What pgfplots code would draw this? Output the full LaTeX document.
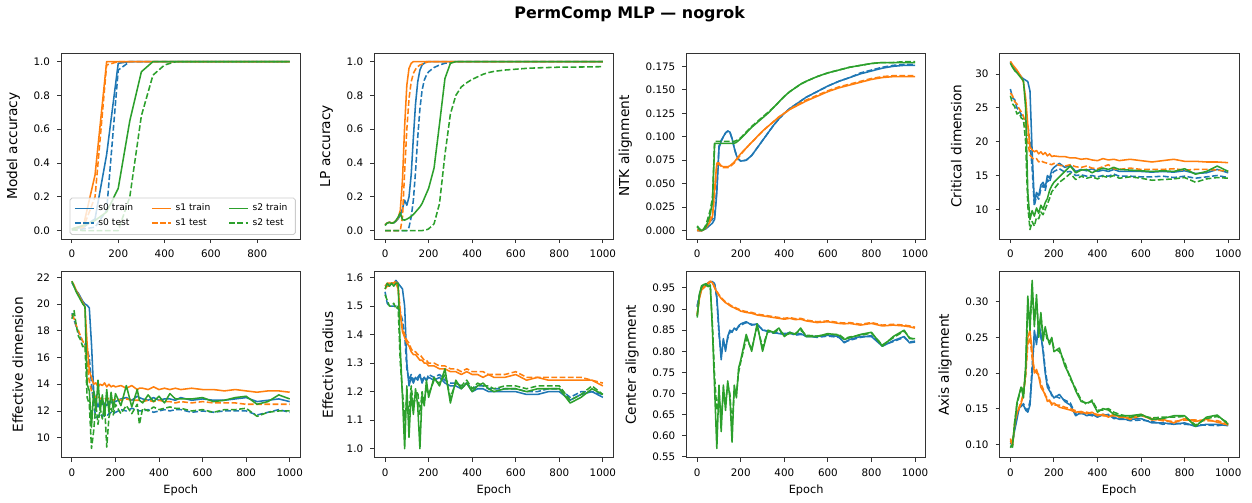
\documentclass[border=0pt]{standalone}
\usepackage{fontspec}
\setmainfont{DejaVu Sans}
\usepackage{pgfplots}
\usepackage{pgfplotstable}
\pgfplotsset{compat=1.18}

\definecolor{c0}{HTML}{1F77B4}
\definecolor{c1}{HTML}{FF7F0E}
\definecolor{c2}{HTML}{2CA02C}

\newcommand{\tickfont}{\fontsize{5.2}{6}\selectfont}
\newcommand{\labfont}{\fontsize{6.9}{8}\selectfont}
\newcommand{\xlabfont}{\fontsize{5.7}{6.5}\selectfont}
\newcommand{\legfont}{\fontsize{4.6}{5.4}\selectfont}

% Model accuracy (evaluated every 50 epochs)
\pgfplotstableread{
e btr bte otr ote gtr gte
0 0.01 0.005 0.01 0.005 0.01 0.005
50 0.02 0.01 0.03 0.02 0.03 0.0
100 0.07 0.02 0.33 0.20 0.06 0.0
150 0.45 0.12 1.0 0.98 0.11 0.0
200 0.99 0.95 1.0 1.0 0.25 0.0
250 1.0 1.0 1.0 1.0 0.65 0.20
300 1.0 1.0 1.0 1.0 0.94 0.68
350 1.0 1.0 1.0 1.0 1.0 0.92
400 1.0 1.0 1.0 1.0 1.0 0.98
450 1.0 1.0 1.0 1.0 1.0 1.0
500 1.0 1.0 1.0 1.0 1.0 1.0
550 1.0 1.0 1.0 1.0 1.0 1.0
600 1.0 1.0 1.0 1.0 1.0 1.0
650 1.0 1.0 1.0 1.0 1.0 1.0
700 1.0 1.0 1.0 1.0 1.0 1.0
750 1.0 1.0 1.0 1.0 1.0 1.0
800 1.0 1.0 1.0 1.0 1.0 1.0
850 1.0 1.0 1.0 1.0 1.0 1.0
900 1.0 1.0 1.0 1.0 1.0 1.0
940 1.0 1.0 1.0 1.0 1.0 1.0
}\ma

% LP accuracy
\pgfplotstableread{
e btr bte otr ote gtr gte
0 0.035 0.0 0.035 0.0 0.030 0.0
10 0.045 0.0 0.045 0.0 0.045 0.0
20 0.050 0.0 0.050 0.0 0.048 0.0
30 0.045 0.0 0.045 0.0 0.044 0.0
40 0.046 0.0 0.048 0.0 0.046 0.0
50 0.055 0.0 0.058 0.0 0.060 0.0
60 0.070 0.0 0.075 0.0 0.080 0.0
70 0.090 0.0 0.12 0.0 0.105 0.0
80 0.130 0.0 0.30 0.08 0.065 0.0
90 0.180 0.0 0.62 0.35 0.062 0.0
100 0.150 0.0 0.86 0.60 0.068 0.0
110 0.200 0.02 0.96 0.78 0.075 0.0
120 0.33 0.08 0.99 0.88 0.085 0.0
130 0.55 0.18 1.0 0.93 0.095 0.0
140 0.75 0.35 1.0 0.955 0.11 0.0
150 0.88 0.55 1.0 0.97 0.125 0.0
160 0.95 0.72 1.0 0.98 0.14 0.0
170 0.98 0.83 1.0 0.985 0.16 0.0
180 0.99 0.89 1.0 0.99 0.19 0.003
190 1.0 0.92 1.0 0.995 0.22 0.005
200 1.0 0.94 1.0 1.0 0.25 0.01
225 1.0 0.965 1.0 1.0 0.37 0.04
250 1.0 0.98 1.0 1.0 0.63 0.16
275 1.0 0.99 1.0 1.0 0.90 0.45
300 1.0 0.995 1.0 1.0 0.99 0.69
325 1.0 1.0 1.0 1.0 1.0 0.80
350 1.0 1.0 1.0 1.0 1.0 0.85
375 1.0 1.0 1.0 1.0 1.0 0.875
400 1.0 1.0 1.0 1.0 1.0 0.895
425 1.0 1.0 1.0 1.0 1.0 0.91
450 1.0 1.0 1.0 1.0 1.0 0.925
475 1.0 1.0 1.0 1.0 1.0 0.935
500 1.0 1.0 1.0 1.0 1.0 0.942
550 1.0 1.0 1.0 1.0 1.0 0.95
600 1.0 1.0 1.0 1.0 1.0 0.955
650 1.0 1.0 1.0 1.0 1.0 0.96
700 1.0 1.0 1.0 1.0 1.0 0.963
800 1.0 1.0 1.0 1.0 1.0 0.967
900 1.0 1.0 1.0 1.0 1.0 0.968
1000 1.0 1.0 1.0 1.0 1.0 0.970
}\lp

% NTK alignment
\pgfplotstableread{
e btr bte otr ote gtr gte
0 0.000 0.001 0.000 0.001 0.004 0.005
10 0.000 0.000 0.000 0.000 0.001 0.002
20 0.000 0.000 0.000 0.000 0.000 0.000
30 0.001 0.001 0.001 0.001 0.001 0.002
40 0.002 0.003 0.003 0.004 0.004 0.006
50 0.004 0.006 0.006 0.008 0.010 0.014
60 0.006 0.010 0.010 0.014 0.018 0.022
70 0.008 0.012 0.015 0.016 0.030 0.035
80 0.012 0.016 0.045 0.040 0.093 0.095
90 0.040 0.045 0.072 0.070 0.093 0.095
100 0.088 0.090 0.072 0.071 0.093 0.095
110 0.095 0.096 0.069 0.068 0.093 0.095
120 0.100 0.100 0.068 0.067 0.093 0.095
130 0.104 0.104 0.068 0.067 0.093 0.095
140 0.106 0.106 0.068 0.067 0.093 0.095
150 0.105 0.105 0.069 0.068 0.093 0.095
160 0.098 0.098 0.071 0.070 0.093 0.095
170 0.088 0.088 0.073 0.072 0.093 0.095
180 0.080 0.080 0.076 0.075 0.094 0.096
190 0.076 0.076 0.079 0.078 0.096 0.097
200 0.074 0.074 0.082 0.081 0.098 0.099
225 0.075 0.075 0.088 0.088 0.104 0.105
250 0.080 0.080 0.094 0.094 0.110 0.111
275 0.088 0.088 0.100 0.100 0.115 0.116
300 0.096 0.096 0.106 0.106 0.120 0.121
325 0.104 0.104 0.111 0.111 0.125 0.126
350 0.112 0.112 0.116 0.116 0.131 0.131
375 0.119 0.119 0.121 0.121 0.137 0.137
400 0.125 0.125 0.125 0.125 0.143 0.143
425 0.130 0.130 0.129 0.129 0.148 0.148
450 0.134 0.134 0.132 0.133 0.152 0.152
475 0.138 0.138 0.135 0.136 0.156 0.156
500 0.142 0.142 0.138 0.139 0.159 0.159
550 0.148 0.148 0.143 0.144 0.164 0.164
600 0.154 0.154 0.148 0.149 0.168 0.168
650 0.159 0.159 0.152 0.153 0.171 0.171
700 0.163 0.163 0.155 0.156 0.174 0.174
750 0.167 0.168 0.158 0.159 0.176 0.176
800 0.170 0.171 0.161 0.162 0.178 0.178
850 0.173 0.174 0.163 0.164 0.179 0.179
900 0.175 0.176 0.164 0.165 0.179 0.179
950 0.176 0.177 0.164 0.165 0.179 0.180
1000 0.176 0.177 0.164 0.165 0.179 0.180
}\ntk

% Critical dimension
\pgfplotstableread{
e btr bte otr ote gtr gte
0 31.8 27.8 31.9 27.2 31.6 26.8
10 31.2 26.5 31.4 26.8 31.0 25.6
20 30.8 26.2 31.0 25.9 30.5 25.2
30 30.4 25.0 30.6 25.6 30.2 24.1
40 30.0 24.6 30.1 24.9 29.8 24.3
50 29.6 24.0 29.6 24.4 29.4 23.5
60 29.3 23.6 28.8 23.8 29.0 23.3
70 29.1 23.2 26.5 22.5 25.0 20.0
80 28.9 22.5 22.5 20.0 12.5 10.5
90 27.5 20.0 19.2 18.0 8.5 7.0
100 18.5 16.0 18.8 17.6 9.8 8.2
110 11.0 10.5 18.5 17.4 9.0 7.5
120 12.5 12.0 18.7 17.5 10.2 8.8
130 12.0 11.5 18.2 17.0 9.4 8.6
140 13.6 13.0 18.5 17.2 10.6 9.6
150 14.0 13.6 18.1 17.0 10.0 9.2
160 13.2 12.8 18.4 16.9 11.0 10.0
170 15.0 14.4 17.9 16.8 11.6 10.8
180 14.6 14.0 18.2 16.7 12.8 11.6
190 15.8 15.2 17.8 16.6 13.5 12.6
200 16.2 15.6 17.9 16.8 14.0 13.0
225 16.8 16.0 17.8 16.5 14.8 14.0
250 16.2 15.5 17.8 16.4 15.6 14.6
275 16.5 15.6 17.6 16.6 16.4 15.3
300 15.6 15.0 17.6 16.3 15.4 14.4
325 15.9 15.1 17.4 16.2 15.8 14.9
350 15.7 14.9 17.5 16.4 15.9 14.6
375 16.0 15.0 17.3 16.1 15.4 14.8
400 15.6 14.8 17.2 16.0 15.8 14.5
425 15.8 15.0 17.5 16.3 16.1 14.9
450 15.6 14.9 17.3 16.6 15.9 14.7
475 15.9 15.2 17.4 16.0 16.2 15.0
500 15.6 14.9 17.2 15.9 15.9 14.6
550 15.6 14.9 17.4 16.1 15.8 14.8
600 15.6 14.8 17.2 15.9 15.7 14.6
650 15.5 14.8 17.0 15.9 15.6 14.3
700 15.6 14.9 17.2 15.9 15.7 14.4
750 15.5 14.7 17.4 16.0 15.6 14.5
800 15.7 14.9 17.1 15.8 16.0 14.7
850 15.3 14.6 17.1 15.9 15.2 14.0
900 15.4 14.8 17.0 15.9 15.6 14.5
950 15.9 15.0 17.0 15.8 16.4 14.7
1000 15.4 14.7 16.9 15.6 15.6 14.6
}\cd

% Effective dimension
\pgfplotstableread{
e btr bte otr ote gtr gte
0 21.6 19.3 21.7 19.2 21.7 18.9
10 21.3 18.8 21.4 18.9 21.3 19.5
20 21.0 18.3 21.0 18.4 20.9 18.4
30 20.8 17.9 20.7 18.0 20.6 17.6
40 20.5 17.5 20.4 17.6 20.3 17.3
50 20.2 17.2 20.1 17.2 20.0 16.8
60 20.0 17.0 19.8 17.0 19.8 16.9
70 19.9 16.6 17.0 15.5 14.0 13.0
80 19.7 16.0 15.0 14.2 13.5 12.5
90 17.0 14.0 14.5 13.5 10.8 9.2
100 13.5 12.5 14.0 13.2 13.5 10.5
110 12.8 11.5 14.1 13.0 12.0 12.5
120 12.3 11.6 13.8 13.1 14.3 11.0
130 12.8 11.8 14.0 12.9 12.0 12.2
140 12.5 11.6 13.9 13.0 13.2 11.4
150 12.6 11.7 14.1 13.0 11.6 12.5
160 12.4 11.6 13.8 12.8 13.6 9.3
170 12.7 11.8 14.0 13.0 11.9 11.5
180 12.6 11.9 13.8 12.9 13.4 12.2
190 12.8 11.8 13.9 12.8 12.1 11.7
200 12.7 11.9 13.8 12.9 13.3 12.5
225 12.9 12.1 13.9 12.8 12.4 11.8
250 13.0 12.0 13.7 12.9 13.9 12.4
275 12.8 12.2 13.9 12.8 12.3 11.8
300 13.1 12.1 13.6 12.8 13.6 12.5
310 13.0 12.0 13.7 12.8 12.8 11.0
325 12.9 12.0 13.7 12.7 12.6 12.2
350 12.8 12.1 13.6 12.8 13.2 12.0
375 13.0 11.9 13.8 12.7 12.7 12.3
400 12.8 12.0 13.6 12.8 13.1 12.1
425 12.9 12.1 13.7 12.7 12.6 12.2
450 12.9 12.0 13.6 12.7 13.3 12.3
475 12.8 12.1 13.7 12.6 12.9 12.2
500 13.0 12.1 13.6 12.7 12.9 12.2
550 12.8 11.9 13.7 12.6 12.9 12.0
600 12.9 12.0 13.6 12.7 13.0 12.1
650 12.8 11.9 13.6 12.6 12.7 11.9
700 12.8 12.0 13.5 12.6 12.8 12.1
750 12.9 12.0 13.6 12.6 13.0 12.1
800 13.0 12.0 13.5 12.5 13.1 12.2
850 12.7 11.7 13.4 12.5 12.5 11.6
900 12.8 11.9 13.5 12.5 12.7 11.9
950 12.9 12.1 13.5 12.5 13.2 12.0
1000 12.7 11.9 13.4 12.5 12.9 12.0
}\ed

% Effective radius
\pgfplotstableread{
e btr bte otr ote gtr gte
0 1.57 1.55 1.57 1.56 1.56 1.54
10 1.57 1.51 1.58 1.57 1.58 1.52
20 1.57 1.50 1.58 1.57 1.57 1.50
30 1.58 1.50 1.58 1.58 1.58 1.50
40 1.58 1.50 1.58 1.58 1.57 1.51
50 1.59 1.50 1.58 1.59 1.58 1.49
60 1.58 1.49 1.56 1.57 1.58 1.50
70 1.57 1.48 1.47 1.48 1.35 1.30
80 1.56 1.45 1.41 1.42 1.18 1.20
90 1.50 1.40 1.39 1.40 1.00 1.10
100 1.30 1.28 1.37 1.38 1.22 1.18
110 1.22 1.24 1.36 1.37 1.04 1.12
120 1.25 1.26 1.34 1.35 1.20 1.22
130 1.23 1.24 1.33 1.34 1.12 1.15
140 1.25 1.25 1.33 1.34 1.21 1.18
150 1.24 1.25 1.32 1.33 1.15 1.20
160 1.26 1.26 1.31 1.33 1.00 1.12
170 1.23 1.24 1.31 1.32 1.19 1.20
180 1.25 1.25 1.30 1.31 1.15 1.16
190 1.24 1.24 1.30 1.31 1.24 1.22
200 1.25 1.26 1.29 1.30 1.18 1.19
225 1.24 1.25 1.29 1.30 1.25 1.24
250 1.25 1.26 1.28 1.29 1.22 1.23
275 1.23 1.24 1.28 1.29 1.28 1.26
300 1.22 1.23 1.27 1.28 1.16 1.18
325 1.22 1.23 1.27 1.28 1.24 1.23
350 1.21 1.22 1.26 1.27 1.21 1.22
375 1.23 1.23 1.27 1.28 1.23 1.24
400 1.20 1.21 1.26 1.27 1.20 1.21
425 1.21 1.22 1.26 1.27 1.22 1.23
450 1.21 1.22 1.25 1.27 1.23 1.22
475 1.20 1.21 1.26 1.26 1.21 1.22
500 1.20 1.21 1.25 1.26 1.20 1.21
550 1.20 1.21 1.25 1.26 1.21 1.22
600 1.20 1.21 1.26 1.27 1.21 1.22
650 1.19 1.20 1.24 1.25 1.20 1.21
700 1.19 1.20 1.25 1.25 1.21 1.22
750 1.20 1.21 1.24 1.25 1.21 1.22
800 1.20 1.21 1.24 1.25 1.21 1.22
850 1.17 1.18 1.24 1.25 1.16 1.17
900 1.19 1.20 1.24 1.25 1.18 1.19
950 1.20 1.20 1.24 1.24 1.21 1.22
1000 1.18 1.19 1.22 1.23 1.19 1.19
}\er

% Center alignment
\pgfplotstableread{
e btr bte otr ote gtr gte
0 0.905 0.908 0.885 0.888 0.880 0.884
10 0.930 0.932 0.925 0.928 0.935 0.932
20 0.950 0.948 0.945 0.948 0.955 0.952
30 0.955 0.953 0.950 0.952 0.958 0.955
40 0.958 0.957 0.955 0.957 0.960 0.957
50 0.962 0.960 0.960 0.962 0.955 0.953
60 0.965 0.963 0.965 0.966 0.957 0.955
70 0.965 0.964 0.962 0.963 0.850 0.860
80 0.960 0.958 0.950 0.952 0.710 0.740
90 0.930 0.925 0.940 0.942 0.570 0.660
100 0.850 0.840 0.932 0.934 0.720 0.700
110 0.780 0.790 0.925 0.927 0.610 0.640
120 0.830 0.825 0.920 0.922 0.720 0.700
130 0.800 0.810 0.915 0.917 0.660 0.680
140 0.835 0.830 0.912 0.914 0.730 0.720
150 0.850 0.845 0.908 0.910 0.690 0.700
160 0.845 0.848 0.905 0.907 0.585 0.620
170 0.855 0.852 0.903 0.905 0.720 0.710
180 0.850 0.853 0.900 0.902 0.690 0.700
190 0.860 0.858 0.898 0.900 0.760 0.750
200 0.865 0.862 0.895 0.897 0.780 0.775
225 0.870 0.868 0.892 0.894 0.840 0.830
250 0.862 0.864 0.890 0.892 0.800 0.805
275 0.865 0.862 0.886 0.888 0.865 0.860
300 0.850 0.852 0.884 0.886 0.800 0.810
325 0.848 0.846 0.882 0.884 0.850 0.848
350 0.845 0.843 0.880 0.882 0.845 0.843
375 0.842 0.844 0.878 0.880 0.855 0.852
400 0.840 0.842 0.876 0.878 0.835 0.838
425 0.845 0.843 0.878 0.880 0.845 0.842
450 0.840 0.838 0.875 0.877 0.840 0.842
475 0.842 0.840 0.876 0.878 0.855 0.850
500 0.835 0.837 0.872 0.874 0.835 0.838
550 0.835 0.833 0.868 0.870 0.835 0.836
600 0.838 0.836 0.870 0.872 0.842 0.840
650 0.835 0.833 0.866 0.868 0.838 0.840
675 0.820 0.822 0.865 0.867 0.828 0.830
700 0.828 0.826 0.866 0.868 0.832 0.834
750 0.835 0.833 0.862 0.864 0.840 0.838
800 0.835 0.837 0.866 0.868 0.845 0.843
850 0.812 0.814 0.860 0.862 0.812 0.815
900 0.825 0.823 0.862 0.864 0.835 0.832
950 0.835 0.833 0.860 0.862 0.850 0.848
975 0.820 0.822 0.858 0.860 0.830 0.832
1000 0.822 0.824 0.855 0.857 0.830 0.828
}\ca

% Axis alignment
\pgfplotstableread{
e btr bte otr ote gtr gte
0 0.100 0.105 0.105 0.108 0.095 0.098
10 0.105 0.102 0.098 0.100 0.100 0.096
20 0.120 0.122 0.128 0.130 0.130 0.132
30 0.135 0.138 0.145 0.143 0.158 0.155
40 0.150 0.152 0.150 0.152 0.170 0.168
50 0.155 0.153 0.158 0.160 0.180 0.182
60 0.155 0.157 0.170 0.172 0.165 0.170
70 0.148 0.150 0.200 0.195 0.210 0.200
80 0.145 0.148 0.250 0.240 0.308 0.290
90 0.155 0.160 0.260 0.250 0.260 0.270
100 0.200 0.210 0.230 0.220 0.330 0.310
110 0.260 0.250 0.200 0.205 0.265 0.275
120 0.240 0.245 0.205 0.200 0.310 0.300
130 0.270 0.262 0.195 0.198 0.250 0.260
140 0.255 0.250 0.180 0.185 0.285 0.280
150 0.230 0.235 0.175 0.178 0.245 0.255
160 0.200 0.205 0.170 0.168 0.265 0.260
170 0.180 0.185 0.160 0.165 0.250 0.245
180 0.175 0.178 0.162 0.160 0.240 0.245
190 0.170 0.168 0.155 0.158 0.250 0.248
200 0.165 0.168 0.158 0.155 0.230 0.235
225 0.170 0.165 0.152 0.155 0.235 0.230
250 0.160 0.162 0.150 0.152 0.210 0.215
275 0.155 0.158 0.148 0.150 0.195 0.192
300 0.140 0.142 0.145 0.147 0.175 0.178
325 0.145 0.143 0.146 0.144 0.160 0.162
350 0.140 0.142 0.143 0.145 0.158 0.156
375 0.142 0.140 0.145 0.143 0.160 0.162
400 0.138 0.140 0.140 0.142 0.145 0.148
425 0.142 0.140 0.142 0.140 0.150 0.148
450 0.140 0.142 0.138 0.140 0.148 0.150
475 0.138 0.136 0.142 0.140 0.142 0.145
500 0.135 0.137 0.138 0.140 0.140 0.142
550 0.135 0.133 0.137 0.135 0.140 0.138
600 0.136 0.134 0.142 0.140 0.142 0.140
650 0.130 0.132 0.134 0.136 0.135 0.137
700 0.130 0.128 0.135 0.133 0.136 0.138
750 0.128 0.130 0.130 0.132 0.140 0.138
800 0.130 0.128 0.136 0.134 0.140 0.139
850 0.125 0.127 0.132 0.134 0.125 0.127
900 0.128 0.127 0.135 0.133 0.138 0.136
950 0.128 0.126 0.131 0.133 0.141 0.139
1000 0.126 0.128 0.127 0.129 0.128 0.130
}\aa

\pgfplotsset{
  trn/.style={line width=0.78pt, solid, line join=round},
  tst/.style={line width=0.78pt, dash pattern=on 2.9pt off 1.25pt, line join=round},
  panel/.style={
    scale only axis, width=120.5pt, height=93.5pt, anchor=south west,
    axis line style={black!80, line width=0.45pt},
    tick align=outside, tick pos=left,
    major tick length=2pt,
    every tick/.style={black!80, line width=0.45pt},
    tick label style={font=\tickfont},
    ylabel style={font=\labfont},
    xlabel style={font=\xlabfont, yshift=2.5pt},
    xmin=-50, xmax=1050,
    xtick={0,200,400,600,800,1000},
    /pgf/number format/assume math mode=true,
    /pgf/number format/set thousands separator={},
    scaled y ticks=false,
  },
  yfmt/.style={yticklabel style={/pgf/number format/.cd, fixed, fixed zerofill, precision=#1}},
}

\newcommand{\six}[1]{%
  \addplot[c0, trn, forget plot] table[x=e, y=btr]{#1};
  \addplot[c0, tst, forget plot] table[x=e, y=bte]{#1};
  \addplot[c1, trn, forget plot] table[x=e, y=otr]{#1};
  \addplot[c1, tst, forget plot] table[x=e, y=ote]{#1};
  \addplot[c2, trn, forget plot] table[x=e, y=gtr]{#1};
  \addplot[c2, tst, forget plot] table[x=e, y=gte]{#1};
}

\begin{document}
\begin{tikzpicture}
\path (0pt,0pt) rectangle (626pt,249.5pt);
\node[font=\bfseries\fontsize{8}{9.5}\selectfont] at (313pt,243.5pt) {PermComp MLP — nogrok};

% top row
\begin{axis}[panel, at={(27pt,130.5pt)},
  xmin=-47, xmax=987, xtick={0,200,400,600,800},
  ymin=-0.05, ymax=1.05, ytick={0,0.2,0.4,0.6,0.8,1}, yfmt=1,
  ylabel={Model accuracy},
  legend columns=3,
  legend cell align=left,
  legend image code/.code={\draw[#1] (0pt,0.25pt) -- (9.5pt,0.25pt);},
  legend style={at={(0.98,0.022)}, anchor=south east, font=\legfont,
    draw=black!20, fill=white, fill opacity=0.8, text opacity=1,
    rounded corners=1pt, inner xsep=2pt, inner ysep=1pt, row sep=-1.5pt,
    /tikz/every even column/.append style={column sep=7pt}},
]
\addlegendimage{c0, trn}\addlegendentry{s0 train}
\addlegendimage{c1, trn}\addlegendentry{s1 train}
\addlegendimage{c2, trn}\addlegendentry{s2 train}
\addlegendimage{c0, tst}\addlegendentry{s0 test}
\addlegendimage{c1, tst}\addlegendentry{s1 test}
\addlegendimage{c2, tst}\addlegendentry{s2 test}
\six{\ma}
\end{axis}

\begin{axis}[panel, at={(184.5pt,130.5pt)},
  ymin=-0.05, ymax=1.05, ytick={0,0.2,0.4,0.6,0.8,1}, yfmt=1,
  ylabel={LP accuracy}]
\six{\lp}
\end{axis}

\begin{axis}[panel, at={(341.5pt,130.5pt)},
  ymin=-0.009, ymax=0.189, ytick={0,0.025,0.05,0.075,0.1,0.125,0.15,0.175}, yfmt=3,
  ylabel={NTK alignment}]
\six{\ntk}
\end{axis}

\begin{axis}[panel, at={(499pt,130.5pt)},
  ymin=5.6, ymax=33.1, ytick={10,15,20,25,30},
  ylabel={Critical dimension}]
\six{\cd}
\end{axis}

% bottom row
\begin{axis}[panel, at={(27pt,20.5pt)},
  ymin=8.5, ymax=22.4, ytick={10,12,14,16,18,20,22},
  ylabel={Effective dimension}, xlabel={Epoch}]
\six{\ed}
\end{axis}

\begin{axis}[panel, at={(184.5pt,20.5pt)},
  ymin=0.968, ymax=1.62, ytick={1,1.1,1.2,1.3,1.4,1.5,1.6}, yfmt=1,
  ylabel={Effective radius}, xlabel={Epoch}]
\six{\er}
\end{axis}

\begin{axis}[panel, at={(341.5pt,20.5pt)},
  ymin=0.548, ymax=0.988, ytick={0.55,0.6,0.65,0.7,0.75,0.8,0.85,0.9,0.95}, yfmt=2,
  ylabel={Center alignment}, xlabel={Epoch}]
\six{\ca}
\end{axis}

\begin{axis}[panel, at={(499pt,20.5pt)},
  ymin=0.081, ymax=0.342, ytick={0.1,0.15,0.2,0.25,0.3}, yfmt=2,
  ylabel={Axis alignment}, xlabel={Epoch}]
\six{\aa}
\end{axis}
\end{tikzpicture}
\end{document}
